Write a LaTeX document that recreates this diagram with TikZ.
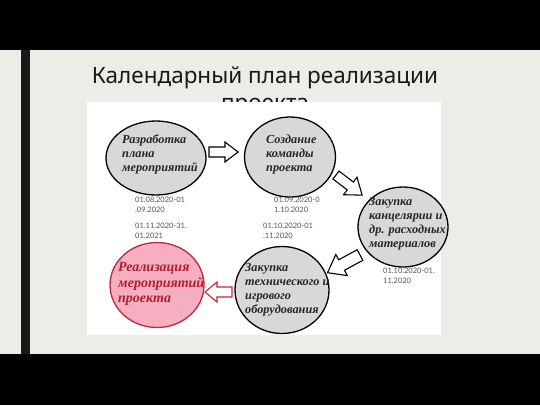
\documentclass[tikz,border=0pt]{standalone}
\usepackage{fontspec}
\setmainfont{Liberation Serif}
\newfontfamily\titlefont{Noto Sans}
\newfontfamily\datefont{Lato}
\definecolor{slidebg}{HTML}{EEECE6}
\definecolor{circgray}{HTML}{D8D8D8}
\definecolor{pinkfill}{HTML}{F6AFC0}
\definecolor{darkred}{HTML}{C0283C}
\definecolor{redtext}{HTML}{B01E34}
\definecolor{dategray}{HTML}{555555}
\tikzset{
  gcirc/.style={ellipse, draw=black, line width=1.3pt, fill=circgray, inner sep=0pt},
  rcirc/.style={ellipse, draw=darkred, line width=1.3pt, fill=pinkfill, inner sep=0pt},
  ctext/.style={anchor=west, align=left, inner sep=0pt, text=black!85, font=\bfseries\itshape\fontsize{12.3}{14}\selectfont},
  rtext/.style={anchor=west, align=left, inner sep=0pt, text=redtext, font=\bfseries\itshape\fontsize{14}{15.5}\selectfont},
  datelbl/.style={anchor=north west, align=left, inner sep=0pt, text=dategray, font=\datefont\fontsize{7.5}{9.5}\selectfont},
  barrow/.style={draw=black, line width=1.1pt, fill=white, line join=miter},
  rbarrow/.style={draw=darkred, line width=1.1pt, fill=white, line join=miter},
}
\usetikzlibrary{shapes.geometric}
\begin{document}
\begin{tikzpicture}[x=1pt,y=-1pt]
\useasboundingbox (0,0) rectangle (540,405);
\fill[black] (0,0) rectangle (540,405);
\fill[slidebg] (0,50) rectangle (540,354);
\fill[black!90] (21,50) rectangle (30,354);
% title
\node[anchor=base, inner sep=0pt, text=black!90, font=\titlefont\fontsize{22.5}{27}\selectfont] (t1) at (265,83) {Календарный план реализации};
\node[anchor=base, inner sep=0pt, text=black!90, font=\titlefont\fontsize{22.5}{27}\selectfont] (t2) at (265,110) {проекта};
% picture area
\fill[white] (87,102) rectangle (441,335);
% circles
\node[gcirc, minimum width=100pt, minimum height=74pt] (c1) at (156,158) {};
\node[gcirc, minimum width=91pt, minimum height=80pt] (c2) at (290,157) {};
\node[gcirc, minimum width=90pt, minimum height=80pt] (c3) at (403,227) {};
\node[gcirc, minimum width=94pt, minimum height=87pt] (c4) at (282,290) {};
\node[rcirc, minimum width=94pt, minimum height=85pt] (c5) at (157,285) {};
% circle texts
\node[ctext] (l1) at (122,154) {Разработка\\плана\\мероприятий};
\node[ctext] (l2) at (266,155) {Создание\\команды\\проекта};
\node[ctext] (l3) at (369,224) {Закупка\\канцелярии и\\др. расходных\\материалов};
\node[ctext] (l4) at (245,290) {Закупка\\технического и\\игрового\\оборудования};
\node[rtext] (l5) at (118,284) {Реализация\\мероприятий\\проекта};
% dates
\node[datelbl] (d1) at (135,197) {01.08.2020-01\\.09.2020};
\node[datelbl] (d2) at (274,197) {01.09.2020-0\\1.10.2020};
\node[datelbl] (d3) at (135,223) {01.11.2020-31.\\01.2021};
\node[datelbl] (d4) at (263,223) {01.10.2020-01\\.11.2020};
\node[datelbl] (d5) at (383,268) {01.10.2020-01.\\11.2020};
% block arrows
\draw[barrow, shift={(209,152)}] (0,-5) -- (16,-5) -- (16,-10) -- (29,0) -- (16,10) -- (16,5) -- (0,5) -- cycle;
\draw[barrow, shift={(336,175)}, rotate=-37.6] (0,-5) -- (18,-5) -- (18,-11) -- (33,0) -- (18,11) -- (18,5) -- (0,5) -- cycle;
\draw[barrow, shift={(360,255)}, rotate=-151.4] (0,-6) -- (21,-6) -- (21,-12) -- (37,0) -- (21,12) -- (21,6) -- (0,6) -- cycle;
\draw[rbarrow, shift={(232,292)}, rotate=180] (0,-5) -- (15,-5) -- (15,-10) -- (27,0) -- (15,10) -- (15,5) -- (0,5) -- cycle;
\end{tikzpicture}
\end{document}
